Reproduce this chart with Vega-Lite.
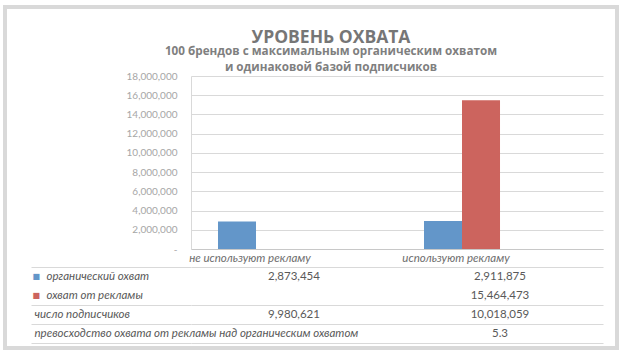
{
  "$schema": "https://vega.github.io/schema/vega-lite/v6.json",
  "background": "white",
  "padding": {"left": 5, "top": 7, "right": 0, "bottom": 0},
  "bounds": "flush",
  "spacing": 18,
  "resolve": {"scale": {"x": "independent"}},
  "config": {"view": {"stroke": null}, "font": "Lato"},
  "vconcat": [
    {
      "width": 412,
      "height": 173,
      "title": {
        "text": "УРОВЕНЬ ОХВАТА",
        "subtitle": ["100 брендов с максимальным органическим охватом", "и одинаковой базой подписчиков"],
        "anchor": "middle",
        "dx": -66,
        "offset": -3,
        "font": "Open Sans",
        "fontSize": 17.5,
        "fontWeight": "bold",
        "color": "#767676",
        "subtitleFont": "Open Sans",
        "subtitleFontSize": 11.7,
        "subtitleFontWeight": "bold",
        "subtitleColor": "#7f7f7f",
        "subtitlePadding": 0,
        "subtitleLineHeight": 16
      },
      "data": {"values": [
        {"category": "не используют рекламу", "series": "органический охват", "value": 2873454},
        {"category": "используют рекламу", "series": "органический охват", "value": 2911875},
        {"category": "используют рекламу", "series": "охват от рекламы", "value": 15464473}
      ]},
      "mark": {"type": "bar"},
      "encoding": {
        "x": {
          "field": "category", "type": "nominal",
          "sort": ["не используют рекламу", "используют рекламу"],
          "scale": {"paddingInner": 0.631, "paddingOuter": 0.3155, "align": 0.2077},
          "axis": {"title": null, "labelAngle": 0, "ticks": false, "domainColor": "#c8c8c8", "labelOffset": -6, "labelFontStyle": "italic", "labelColor": "#6d6d6d", "labelFontSize": 11.5, "labelPadding": 3, "labelLimit": 0}
        },
        "xOffset": {
          "field": "series", "type": "nominal",
          "sort": ["органический охват", "охват от рекламы"],
          "scale": {"domain": ["органический охват", "охват от рекламы"], "paddingInner": 0, "paddingOuter": 0}
        },
        "y": {
          "field": "value", "type": "quantitative",
          "scale": {"domain": [0, 18000000], "nice": false},
          "axis": {"title": null, "values": [0, 2000000, 4000000, 6000000, 8000000, 10000000, 12000000, 14000000, 16000000, 18000000], "labelExpr": "datum.value == 0 ? '-  ' : format(datum.value, ',d')", "ticks": false, "domainColor": "#d9d9d9", "gridColor": "#d9d9d9", "labelColor": "#a6a6a6", "labelFontSize": 10, "labelPadding": 14}
        },
        "color": {
          "field": "series", "type": "nominal",
          "scale": {"domain": ["органический охват", "охват от рекламы"], "range": ["#6396c9", "#cc645e"]},
          "legend": null
        }
      }
    },
    {
      "width": 412,
      "height": 76,
      "data": {"values": [
        {"row": "органический охват", "category": "не используют рекламу", "value": 2873454},
        {"row": "органический охват", "category": "используют рекламу", "value": 2911875},
        {"row": "охват от рекламы", "category": "используют рекламу", "value": 15464473},
        {"row": "число подписчиков", "category": "не используют рекламу", "value": 9980621},
        {"row": "число подписчиков", "category": "используют рекламу", "value": 10018059},
        {"row": "превосходство охвата от рекламы над органическим охватом", "category": "используют рекламу", "value": 5.3}
      ]},
      "layer": [
        {
          "mark": {"type": "text", "fontSize": 11.5, "color": "#595959"},
          "encoding": {
            "x": {"field": "category", "type": "nominal", "sort": ["не используют рекламу", "используют рекламу"], "scale": {"paddingInner": 0, "paddingOuter": 0}, "axis": null},
            "y": {
              "field": "row", "type": "nominal",
              "sort": ["органический охват", "охват от рекламы", "число подписчиков", "превосходство охвата от рекламы над органическим охватом"],
              "scale": {"paddingInner": 0, "paddingOuter": 0},
              "axis": {
                "title": null, "orient": "left", "domain": false,
                "ticks": true, "tickSize": 160, "tickBand": "extent", "tickColor": "#d9d9d9",
                "grid": true, "gridColor": "#d9d9d9",
                "tickOpacity": {"condition": {"test": "datum.value === 'органический охват'", "value": 0}, "value": 1},
                "gridOpacity": {"condition": {"test": "datum.value === 'органический охват'", "value": 0}, "value": 1},
                "labelAlign": "left",
                "labelPadding": {"condition": {"test": "datum.value === 'органический охват' || datum.value === 'охват от рекламы'", "value": -15}, "value": -3},
                "labelFontStyle": "italic", "labelColor": "#595959", "labelFontSize": 11.5, "labelLimit": 0, "labelBaseline": "middle"
              }
            },
            "text": {"field": "value", "type": "quantitative", "format": ",.1~f"}
          }
        },
        {
          "mark": {"type": "text", "opacity": 0},
          "encoding": {
            "x": {"field": "category", "type": "nominal", "sort": ["не используют рекламу", "используют рекламу"], "axis": null},
            "y": {
              "field": "row", "type": "nominal",
              "sort": ["органический охват", "охват от рекламы", "число подписчиков", "превосходство охвата от рекламы над органическим охватом"],
              "axis": {
                "title": null, "orient": "left", "domain": false, "ticks": false, "grid": false,
                "labelExpr": "datum.value === 'органический охват' || datum.value === 'охват от рекламы' ? '■' : ''",
                "labelColor": {"condition": {"test": "datum.value === 'охват от рекламы'", "value": "#cc645e"}, "value": "#6396c9"},
                "labelFont": "DejaVu Sans", "labelAlign": "left", "labelPadding": 159, "labelFontSize": 8, "labelBaseline": "middle"
              }
            },
            "text": {"field": "value", "type": "quantitative", "format": ",.1~f"},
            "fill": {
              "field": "value", "type": "quantitative",
              "scale": {"range": ["rgba(255,255,255,0)", "rgba(255,255,255,0)"]},
              "legend": {
                "orient": "none", "legendX": -186, "legendY": -69,
                "direction": "horizontal", "title": null,
                "labelExpr": "''", "labelFontSize": 0, "labelOffset": 0,
                "gradientLength": 612, "gradientThickness": 341,
                "gradientStrokeColor": "#d9d9d9", "gradientStrokeWidth": 4,
                "padding": 0, "offset": 0
              }
            }
          }
        }
      ],
      "resolve": {"axis": {"y": "independent"}}
    }
  ]
}
